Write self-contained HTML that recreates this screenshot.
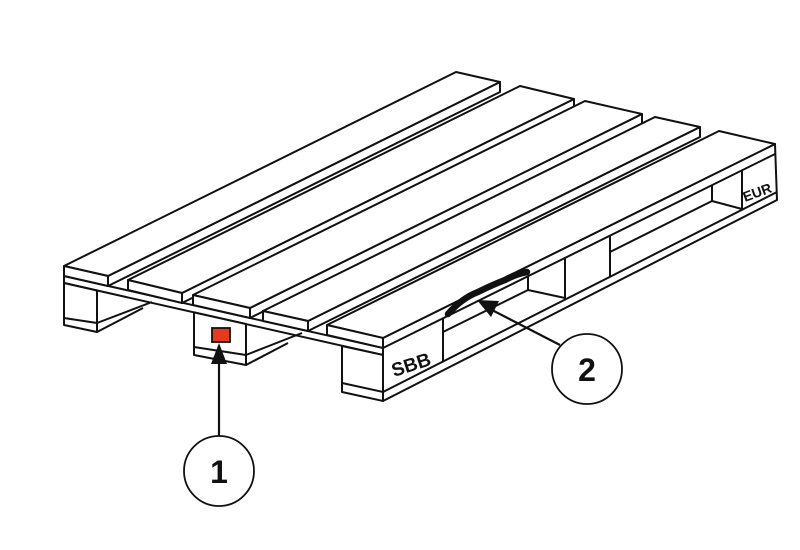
<!DOCTYPE html>
<html><head><style>html,body{margin:0;padding:0;background:#fff}svg{display:block}</style></head>
<body>
<svg width="800" height="550" viewBox="0 0 800 550" xmlns="http://www.w3.org/2000/svg">
<g fill="#fff" stroke="#111" stroke-width="2" stroke-linejoin="round">
<polygon points="64,276 383,348 383,355 64,283"/>
<polygon points="64,283 97,290.5 97,332 64,325"/>
<line x1="64" y1="318" x2="97" y2="323"/>
<line x1="97" y1="323" x2="152" y2="302"/>
<line x1="97" y1="332" x2="143" y2="308"/>
<polygon points="194,312.4 246,324 246,365 194,355"/>
<line x1="194" y1="347" x2="246" y2="355"/>
<line x1="246" y1="355" x2="302" y2="333"/>
<line x1="246" y1="365" x2="288" y2="343"/>
<polygon points="342,346 383,355 383,401 342,392"/>
<line x1="342" y1="383" x2="383" y2="392"/>
<polygon points="383,338 775,144 777,200 383,401"/>
<line x1="383" y1="348" x2="775" y2="154"/>
<line x1="383" y1="392" x2="777" y2="192"/>
<line x1="443" y1="318.3" x2="443" y2="362.4"/>
<line x1="565" y1="257.9" x2="565" y2="300.2"/>
<line x1="610" y1="235.7" x2="610" y2="277.2"/>
<line x1="742" y1="170.3" x2="742" y2="209.9"/>
<line x1="443" y1="332" x2="528" y2="290"/>
<line x1="528" y1="276" x2="528" y2="290"/>
<line x1="528" y1="290" x2="565" y2="298"/>
<line x1="610" y1="252" x2="712" y2="201"/>
<line x1="712" y1="185" x2="712" y2="201"/>
<line x1="712" y1="201" x2="742" y2="209"/>
<polygon points="108,276 500,82 500,92 108,286"/>
<polygon points="64,266 108,276 500,82 456,72"/>
<polygon points="64,266 108,276 108,286 64,276"/>
<polygon points="182,293 574,99 574,109 182,303"/>
<polygon points="128,280 182,293 574,99 520,86"/>
<polygon points="128,280 182,293 182,303 128,290"/>
<polygon points="250,308 642,114 642,124 250,318"/>
<polygon points="193,295 250,308 642,114 585,101"/>
<polygon points="193,295 250,308 250,318 193,305"/>
<polygon points="308,321 700,127 700,137 308,331"/>
<polygon points="263,311 308,321 700,127 655,117"/>
<polygon points="263,311 308,321 308,331 263,321"/>
<polygon points="327,325 383,338 775,144 719,131"/>
<polygon points="327,325 383,338 383,348 327,335"/>
</g>
<rect x="212" y="328" width="18" height="14" fill="#e63a1e" stroke="#111" stroke-width="1.8"/>
<path d="M448,314 Q462,298 478,292 Q492,285 505,280 Q516,274 527,272" fill="none" stroke="#111" stroke-width="6.5" stroke-linecap="round"/>
<text x="0" y="0" transform="translate(394,377) rotate(-18)" font-family="Liberation Sans, sans-serif" font-weight="bold" font-size="19" fill="#111">SBB</text>
<text x="0" y="0" transform="translate(745,202) rotate(-20)" font-family="Liberation Sans, sans-serif" font-weight="bold" font-size="14" fill="#111">EUR</text>
<line x1="219" y1="436" x2="219" y2="360" stroke="#111" stroke-width="2.2"/>
<polygon points="219,343 211,364 227,364" fill="#111"/>
<circle cx="219" cy="471" r="35" fill="#fff" stroke="#111" stroke-width="1.8"/>
<text x="219" y="483" text-anchor="middle" font-family="Liberation Sans, sans-serif" font-weight="bold" font-size="32" fill="#111">1</text>
<line x1="560" y1="345" x2="492" y2="310" stroke="#111" stroke-width="2.2"/>
<polygon points="477,300 491,317 499,301" fill="#111"/>
<circle cx="587" cy="369" r="35" fill="#fff" stroke="#111" stroke-width="1.8"/>
<text x="587" y="381" text-anchor="middle" font-family="Liberation Sans, sans-serif" font-weight="bold" font-size="32" fill="#111">2</text>
</svg>
</body></html>
